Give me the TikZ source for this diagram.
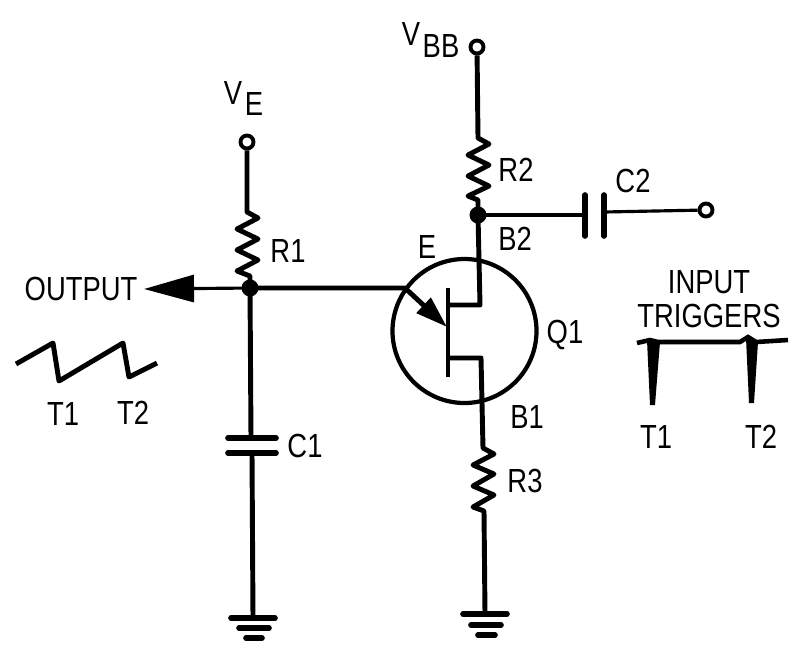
\documentclass[tikz,border=0pt]{standalone}
\usepackage{fontspec}
\setmainfont[FakeStretch=0.82]{Liberation Sans}
\usetikzlibrary{arrows.meta}

\tikzset{
    wire/.style={line width=1.4pt, line join=round},
    thinwire/.style={line width=0.9pt},
    plate/.style={line width=1.6pt, line cap=round},
    terminal/.style={circle, draw, line width=1.1pt, fill=white, inner sep=0pt, minimum size=0.13cm},
    junction/.style={circle, fill=black, inner sep=0pt, minimum size=0.17cm},
    label/.style={inner sep=0pt, font=\fontsize{9.5pt}{11pt}\selectfont, align=center}
}

\begin{document}
\begin{tikzpicture}[x=0.01cm,y=-0.01cm]
    \useasboundingbox (0,0) rectangle (806,663);

    \node[terminal] (vbb) at (477,47) {};
    \node[terminal] (ve) at (247,142) {};
    \node[terminal] (c2out) at (706,210) {};
    \coordinate (nodeb) at (478,215);
    \coordinate (nodee) at (250,288);
    \coordinate (r2top) at (478,138);
    \coordinate (r2bot) at (478,200);
    \coordinate (r1top) at (247,212);
    \coordinate (r1bot) at (250,276);
    \coordinate (r3top) at (483,448);
    \coordinate (r3bot) at (484,511);
    \coordinate (outtip) at (144,289);
    \coordinate (ebend) at (405,288);
    \coordinate (etip) at (447,327);
    \coordinate (c1a) at (251,438);
    \coordinate (c1b) at (252,453);
    \coordinate (c2a) at (585,215);
    \coordinate (c2b) at (604,212);
    \coordinate (gnd1) at (253,618);
    \coordinate (gnd2) at (485,614);
    \coordinate (bara) at (448,288);
    \coordinate (barb) at (448,377);
    \coordinate (b2in) at (448,305);
    \coordinate (b2up) at (480,305);
    \coordinate (b1in) at (448,358);
    \coordinate (b1dn) at (481,358);

    % supply side
    \draw[wire] (vbb) -- (r2top) -- ++(11,6) -- ++(-21,11) -- ++(21,10) -- ++(-21,11)
        -- ++(21,10) -- ++(-21,10) -- (r2bot) -- (nodeb);
    \draw[wire] (ve) -- (r1top) -- ++(11,6) -- ++(-21,11) -- ++(21,10) -- ++(-21,11)
        -- ++(21,10) -- ++(-21,11) -- (r1bot) -- (nodee);
    \draw[wire] (nodeb) -- (b2up) -- (b2in);
    \draw[wire] (barb) -- (bara);
    \draw[wire] (b1in) -- (b1dn) -- (r3top) -- ++(11,6) -- ++(-21,11) -- ++(21,9) -- ++(-21,12)
        -- ++(21,9) -- ++(-21,12) -- (r3bot) -- (gnd2);

    % emitter and output
    \draw[wire, -{Triangle[length=0.32cm, width=0.2cm]}] (nodee) -- (ebend) -- (etip);
    \draw[thinwire, -{Triangle[length=0.5cm, width=0.27cm]}] (nodee) -- (outtip);
    \draw[line width=1.2pt] (464.5,331) circle (72);

    % C1
    \draw[wire] (nodee) -- (c1a);
    \draw[wire] (c1b) -- (gnd1);
    \draw[plate] (228,438) -- (276,438);
    \draw[plate] (228,453) -- (276,453);

    % C2
    \draw[thinwire] (nodeb) -- (c2a);
    \draw[thinwire] (c2b) -- (c2out);
    \draw[plate] (585,195) -- (585,236);
    \draw[plate] (604,195) -- (604,236);

    % grounds
    \draw[plate]
        (231,618) -- (275,618)
        (239,628) -- (269,628)
        (246,638) -- (262,638)
        (463,614) -- (507,614)
        (471,625) -- (501,625)
        (478,635) -- (495,635);

    % dots go on top of the wires
    \node[junction] (dotb) at (nodeb) {};
    \node[junction] (dote) at (nodee) {};

    % waveforms
    \draw[line width=1.4pt, line join=round]
        (16,364) -- (53,343) -- (59,381) -- (123,343) -- (129,377) -- (157,363);
    \draw[line width=1.3pt] (637,343) -- (650,340) -- (658,342) -- (740,342) -- (748,337) -- (756,342) -- (788,340);
    \fill (647,340) -- (650,405) -- (655,405) -- (660,342) -- cycle;
    \fill (746,338) -- (749,403) -- (754,403) -- (758,342) -- cycle;

    % labels
    \node[label] (lblvbb) at (411,34) {V};
    \node[label] (lblbb) at (441,46) {BB};
    \node[label] (lblv) at (233,93) {V};
    \node[label] (lble) at (254,104) {E};
    \node[label] (lblr1) at (288,251) {R1};
    \node[label] (lblr2) at (516,170) {R2};
    \node[label] (lblr3) at (525,481) {R3};
    \node[label] (lblc1) at (305,446) {C1};
    \node[label] (lblc2) at (633,181) {C2};
    \node[label] (lblemit) at (427,247) {E};
    \node[label] (lblb2) at (515,239) {B2};
    \node[label] (lblb1) at (527,417) {B1};
    \node[label] (lblq1) at (565,335) {Q1};
    \node[label] (lblout) at (81,289) {OUTPUT};
    \node[label] (lblt1) at (63,414) {T1};
    \node[label] (lblt2) at (133,413) {T2};
    \node[label] (lblinput) at (709,282) {INPUT};
    \node[label] (lbltrig) at (709,316) {TRIGGERS};
    \node[label] (lblt3) at (656,437) {T1};
    \node[label] (lblt4) at (761,437) {T2};
\end{tikzpicture}
\end{document}
